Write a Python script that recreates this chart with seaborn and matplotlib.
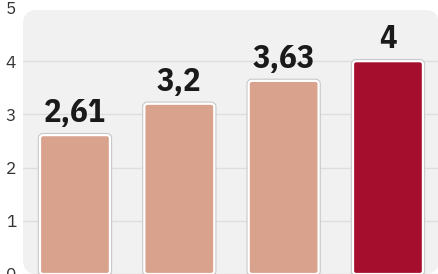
import matplotlib
matplotlib.use("Agg")
import matplotlib.pyplot as plt
import seaborn as sns
import pandas as pd
from matplotlib.patches import FancyBboxPatch
from matplotlib.transforms import IdentityTransform
import matplotlib.patheffects as pe

categories = ["A", "B", "C", "D"]
values = [2.61, 3.2, 3.63, 4.0]
labels = ["2,61", "3,2", "3,63", "4"]
colors = ["#d9a28c", "#d9a28c", "#d9a28c", "#a50e2d"]
yticks = [0, 1, 2, 3, 4, 5]

sns.set_style("white")
df = pd.DataFrame({"cat": categories, "val": values})

fig = plt.figure(figsize=(4.39, 2.74), dpi=100)
ax = fig.add_axes([23 / 439, 0, 1 - 23 / 439, 1])

sns.barplot(data=df, x="cat", y="val", hue="cat", palette=colors, legend=False,
            width=0.67, ax=ax, saturation=1)

ax.set_xlim(-0.498, 3.489)
ax.set_ylim(0.13, 5.15)

bars = list(ax.patches)

# background rounded panel (pixel coordinates)
bg = FancyBboxPatch((23, 0), 416, 264, transform=IdentityTransform(),
                    boxstyle="round,pad=0,rounding_size=14",
                    facecolor="#f1f1f2", edgecolor="none", zorder=0, clip_on=False)
ax.add_patch(bg)

for p in bars:
    x, y, w, h = p.get_x(), p.get_y(), p.get_width(), p.get_height()
    fc = p.get_facecolor()
    p.set_visible(False)
    r = FancyBboxPatch((x, y), w, h, boxstyle="round,pad=0,rounding_size=0.03",
                       mutation_aspect=1.9, facecolor=fc, edgecolor="white",
                       linewidth=1.6, zorder=3)
    r.set_path_effects([pe.Stroke(linewidth=3.2, foreground="#c8c8c8"), pe.Normal()])
    ax.add_patch(r)

for i, (v, lab) in enumerate(zip(values, labels)):
    ax.annotate(lab, (i, v), xytext=(0, 9.4), textcoords="offset points",
                ha="center", va="baseline", fontsize=23.5, fontweight="bold",
                family=["IBM Plex Sans Condensed", "DejaVu Sans"], color="#1a1a1a", zorder=5)

ax.set_yticks(yticks)
ax.set_yticklabels([str(t) for t in yticks], family=["IBM Plex Sans", "DejaVu Sans"],
                   fontweight="light", fontsize=12.5, color="#333333")
ax.tick_params(axis="y", length=0, pad=5)
ax.set_xticks([])
ax.set_xlabel("")
ax.set_ylabel("")
ax.yaxis.grid(True, color="#dedede", linewidth=1)
ax.set_axisbelow(True)
gl = ax.get_ygridlines()
gl[-1].set_visible(False)
for s in ax.spines.values():
    s.set_visible(False)
ax.patch.set_alpha(0)

fig.savefig("out.png", dpi=100)
